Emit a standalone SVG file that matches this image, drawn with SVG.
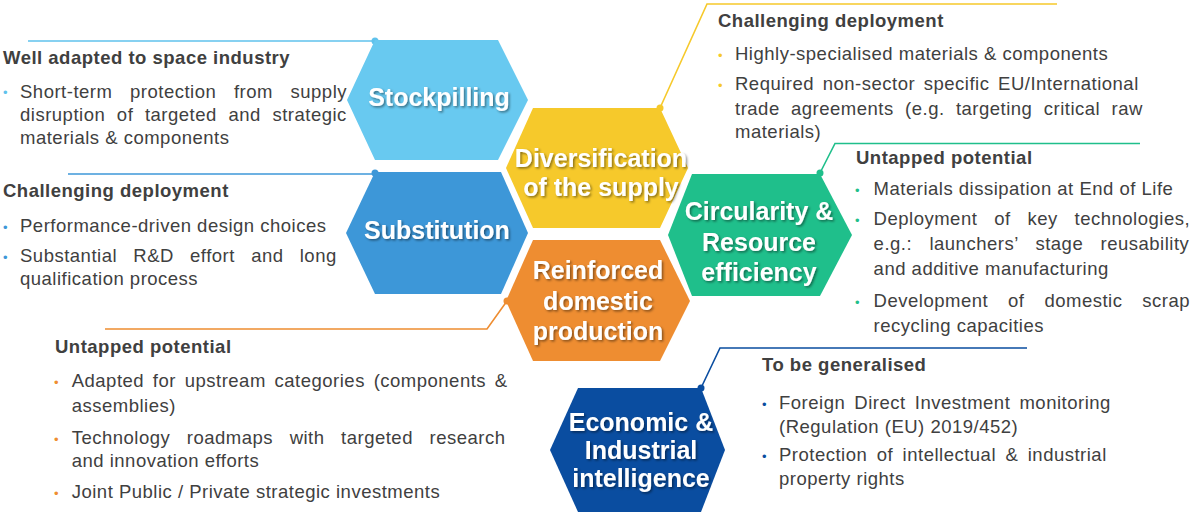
<svg xmlns="http://www.w3.org/2000/svg" width="1193" height="514" viewBox="0 0 1193 514">
<defs>
<style>
.t{font-family:"Liberation Sans",Arial,sans-serif;font-size:18.5px;fill:#404040;letter-spacing:0.5px}
.b{font-weight:bold}
.lbl{font-family:"Liberation Sans",Arial,sans-serif;font-weight:bold;font-size:25px;fill:#ffffff;text-anchor:middle;filter:url(#sh)}
.bul{font-family:"Liberation Sans",Arial,sans-serif;font-size:13px}
.ln{fill:none;stroke-width:1.6}
</style>
<filter id="sh" x="-10%" y="-30%" width="120%" height="160%">
<feDropShadow dx="1.5" dy="1.5" stdDeviation="1" flood-color="#000" flood-opacity="0.45"/>
</filter>
</defs>
<rect width="1193" height="514" fill="#ffffff"/>

<g id="connectors">
<polyline class="ln" stroke="#5fc2ec" points="28,41 375,41"/>
<circle cx="375" cy="41" r="3.5" fill="#5fc2ec"/>
<polyline class="ln" stroke="#3d97d8" points="68,174 375,174"/>
<circle cx="375" cy="173" r="3.5" fill="#3d97d8"/>
<polyline class="ln" stroke="#f6c92b" points="660,108 707,4 1057,4"/>
<circle cx="660" cy="108" r="3.5" fill="#f6c92b"/>
<polyline class="ln" stroke="#1fbf8b" points="820,173 835,143.5 1140,143.5"/>
<circle cx="820" cy="173" r="3.5" fill="#1fbf8b"/>
<polyline class="ln" stroke="#ee8d31" points="507,301 487,329 105,329"/>
<circle cx="507" cy="301" r="3.5" fill="#ee8d31"/>
<polyline class="ln" stroke="#0a4da0" points="701,388 720,348 1027,348"/>
<circle cx="701" cy="388" r="3.5" fill="#0a4da0"/>
</g>

<g id="node-stockpilling">
<polygon points="347,100 375,40 498,40 528,100 498,160 375,160" fill="#68c9f0"/>
<text class="lbl" x="439" y="106">Stockpilling</text>
</g>
<g id="node-substitution">
<polygon points="346,233 375,172 501,172 528,233 501,294 375,294" fill="#3d97d8"/>
<text class="lbl" x="437" y="239">Substitution</text>
</g>
<g id="node-diversification">
<polygon points="506,168 533,108 660,108 688,168 660,228 533,228" fill="#f6c92b"/>
<text class="lbl" x="601" y="166.5">Diversification</text>
<text class="lbl" x="601" y="195.5">of the supply</text>
</g>
<g id="node-reinforced">
<polygon points="506,301 533,240 660,240 690,301 660,361 533,361" fill="#ee8d31"/>
<text class="lbl" x="598" y="279">Reinforced</text>
<text class="lbl" x="598" y="309.5">domestic</text>
<text class="lbl" x="598" y="340">production</text>
</g>
<g id="node-circularity">
<polygon points="668,235 692,174 820,174 852,235 820,296 692,296" fill="#1fbf8b"/>
<text class="lbl" x="759" y="220">Circularity &amp;</text>
<text class="lbl" x="759" y="250.5">Resource</text>
<text class="lbl" x="759" y="281">efficiency</text>
</g>
<g id="node-economic">
<polygon points="550,450 578,388 701,388 725,450 701,512 578,512" fill="#0a4da0"/>
<text class="lbl" x="641" y="431">Economic &amp;</text>
<text class="lbl" x="641" y="459">Industrial</text>
<text class="lbl" x="641" y="487">intelligence</text>
</g>

<g id="note-stockpilling">
<text class="t b" x="3" y="64">Well adapted to space industry</text>
<text class="bul" fill="#5fc2ec" x="3" y="97">•</text>
<text class="t" x="20" y="97.5" style="word-spacing:12px">Short-term protection from supply</text>
<text class="t" x="20" y="120.5" style="word-spacing:6px">disruption of targeted and strategic</text>
<text class="t" x="20" y="143.5">materials &amp; components</text>
</g>

<g id="note-substitution">
<text class="t b" x="3" y="197">Challenging deployment</text>
<text class="bul" fill="#3d97d8" x="3" y="231.5">•</text>
<text class="t" x="20" y="231.5">Performance-driven design choices</text>
<text class="bul" fill="#3d97d8" x="3" y="261.5">•</text>
<text class="t" x="20" y="261.5" style="word-spacing:10.6px">Substantial R&amp;D effort and long</text>
<text class="t" x="20" y="285">qualification process</text>
</g>

<g id="note-reinforced">
<text class="t b" x="55" y="353">Untapped potential</text>
<text class="bul" fill="#ee8d31" x="54" y="386.5">•</text>
<text class="t" x="71.7" y="386.5" style="word-spacing:3.1px">Adapted for upstream categories (components &amp;</text>
<text class="t" x="71.7" y="411.5">assemblies)</text>
<text class="bul" fill="#ee8d31" x="54" y="443.5">•</text>
<text class="t" x="71.7" y="443.5" style="word-spacing:10.9px">Technology roadmaps with targeted research</text>
<text class="t" x="71.7" y="467">and innovation efforts</text>
<text class="bul" fill="#ee8d31" x="54" y="498">•</text>
<text class="t" x="71.7" y="498">Joint Public / Private strategic investments</text>
</g>

<g id="note-diversification">
<text class="t b" x="718" y="27">Challenging deployment</text>
<text class="bul" fill="#f6c92b" x="718" y="60">•</text>
<text class="t" x="735" y="60">Highly-specialised materials &amp; components</text>
<text class="bul" fill="#f6c92b" x="718" y="90">•</text>
<text class="t" x="735" y="90" style="word-spacing:3px">Required non-sector specific EU/International</text>
<text class="t" x="735" y="114.5" style="word-spacing:5.7px">trade agreements (e.g. targeting critical raw</text>
<text class="t" x="735" y="138">materials)</text>
</g>

<g id="note-circularity">
<text class="t b" x="856" y="164">Untapped potential</text>
<text class="bul" fill="#1fbf8b" x="855" y="195">•</text>
<text class="t" x="873.6" y="195">Materials dissipation at End of Life</text>
<text class="bul" fill="#1fbf8b" x="855" y="225">•</text>
<text class="t" x="873.6" y="225" style="word-spacing:11.2px">Deployment of key technologies,</text>
<text class="t" x="873.6" y="250" style="word-spacing:11.7px">e.g.: launchers’ stage reusability</text>
<text class="t" x="873.6" y="275">and additive manufacturing</text>
<text class="bul" fill="#1fbf8b" x="855" y="307">•</text>
<text class="t" x="873.6" y="307" style="word-spacing:14.3px">Development of domestic scrap</text>
<text class="t" x="873.6" y="332">recycling capacities</text>
</g>

<g id="note-economic">
<text class="t b" x="762" y="371">To be generalised</text>
<text class="bul" fill="#0a4da0" x="762" y="409">•</text>
<text class="t" x="779" y="409" style="word-spacing:3.5px">Foreign Direct Investment monitoring</text>
<text class="t" x="779" y="433">(Regulation (EU) 2019/452)</text>
<text class="bul" fill="#0a4da0" x="762" y="461">•</text>
<text class="t" x="779" y="461" style="word-spacing:3.8px">Protection of intellectual &amp; industrial</text>
<text class="t" x="779" y="485">property rights</text>
</g>
</svg>
